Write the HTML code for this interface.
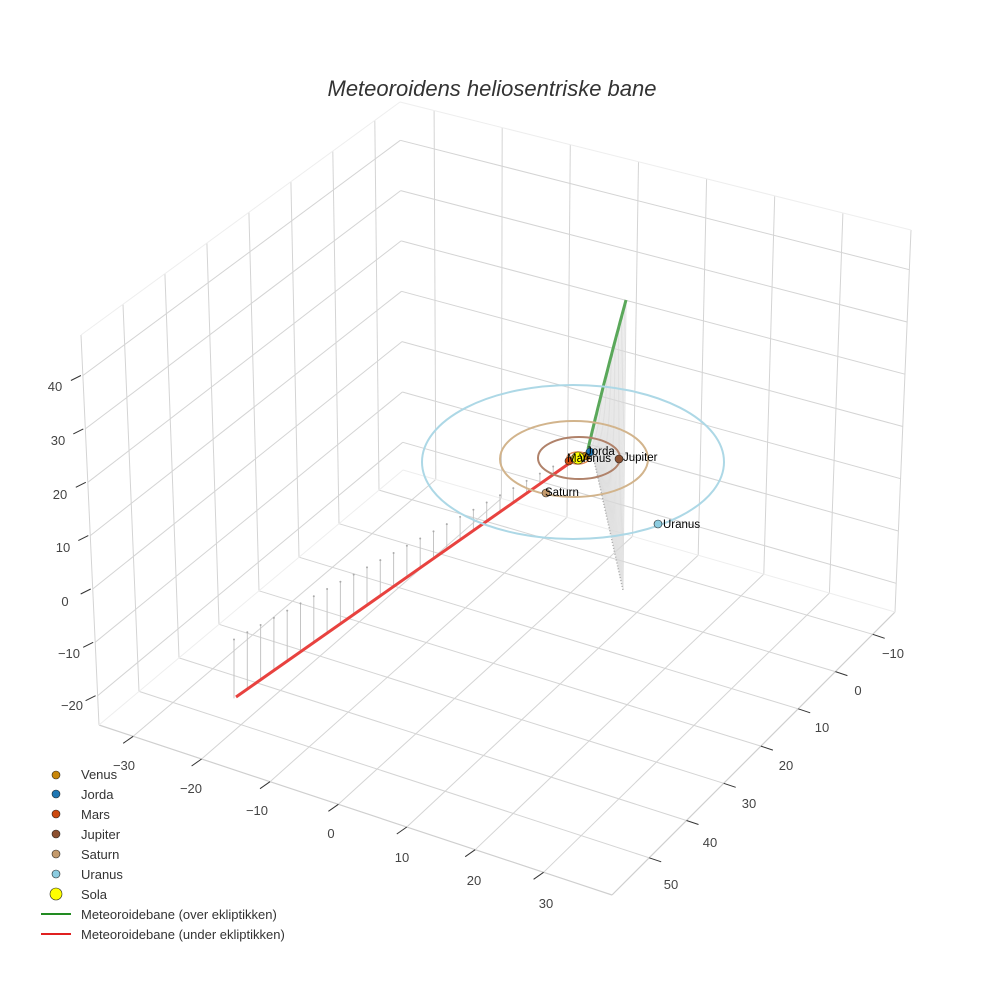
<!DOCTYPE html>
<html><head><meta charset="utf-8"><style>
html,body{margin:0;padding:0;background:#fff;}
svg{display:block;font-family:"Liberation Sans",sans-serif;}
</style></head><body>
<svg id="s" width="984" height="984" viewBox="0 0 984 984" xmlns="http://www.w3.org/2000/svg">
<rect width="984" height="984" fill="#fff"/>
<g id="grid"></g>
<text x="492" y="96" text-anchor="middle" font-size="22" font-style="italic" fill="#333">Meteoroidens heliosentriske bane</text>
<g font-size="13" fill="#444" text-anchor="middle">
<text x="55" y="391">40</text><text x="58" y="445">30</text><text x="60" y="499">20</text><text x="63" y="552">10</text><text x="65" y="606">0</text><text x="69" y="658">−10</text><text x="72" y="710">−20</text>
<text x="124" y="770">−30</text><text x="191" y="793">−20</text><text x="257" y="815">−10</text><text x="331" y="838">0</text><text x="402" y="862">10</text><text x="474" y="885">20</text><text x="546" y="908">30</text>
<text x="893" y="658">−10</text><text x="858" y="695">0</text><text x="822" y="732">10</text><text x="786" y="770">20</text><text x="749" y="808">30</text><text x="710" y="847">40</text><text x="671" y="889">50</text>
</g>
<g id="data"></g>
<ellipse cx="573" cy="462" rx="151" ry="77" fill="none" stroke="#add8e6" stroke-width="2"/>
<ellipse cx="574" cy="459" rx="74" ry="38" fill="none" stroke="#d2b48c" stroke-width="2"/>
<ellipse cx="579" cy="458" rx="41" ry="21" fill="none" stroke="#b0826a" stroke-width="2"/>
<ellipse cx="578" cy="458" rx="11" ry="6" fill="none" stroke="#e08a50" stroke-width="1.5"/>
<ellipse cx="578" cy="458" rx="7" ry="4" fill="none" stroke="#d9a060" stroke-width="1.5"/>
<g stroke="#222" stroke-width="0.6">
<circle cx="569" cy="461" r="4" fill="#cc4a10"/>
<circle cx="586" cy="456" r="4" fill="#c8860a"/>
<circle cx="590" cy="452" r="4" fill="#1f77b4"/>
<circle cx="578" cy="458" r="6" fill="#ffff00"/>
<circle cx="619" cy="459" r="4" fill="#8c5030"/>
<circle cx="546" cy="493" r="4" fill="#c49a6c"/>
<circle cx="658" cy="524" r="4" fill="#8ccce0"/>
</g>
<g font-size="11.5" fill="#000">
<text x="586" y="455">Jorda</text>
<text x="567" y="462">Mars</text>
<text x="579" y="462">Venus</text>
<text x="623" y="461">Jupiter</text>
<text x="545" y="496">Saturn</text>
<text x="663" y="528">Uranus</text>
</g>
<g stroke="#222" stroke-width="0.6">
<circle cx="56" cy="775" r="4" fill="#c8860a"/>
<circle cx="56" cy="794" r="4" fill="#1f77b4"/>
<circle cx="56" cy="814" r="4" fill="#cc4a10"/>
<circle cx="56" cy="834" r="4" fill="#8c5030"/>
<circle cx="56" cy="854" r="4" fill="#c49a6c"/>
<circle cx="56" cy="874" r="4" fill="#8ccce0"/>
<circle cx="56" cy="894" r="6" fill="#ffff00"/>
</g>
<line x1="41" y1="914" x2="71" y2="914" stroke="#228b22" stroke-width="2"/>
<line x1="41" y1="934" x2="71" y2="934" stroke="#e02020" stroke-width="2"/>
<g font-size="13" fill="#333">
<text x="81" y="779">Venus</text><text x="81" y="799">Jorda</text><text x="81" y="819">Mars</text><text x="81" y="839">Jupiter</text><text x="81" y="859">Saturn</text><text x="81" y="879">Uranus</text><text x="81" y="899">Sola</text><text x="81" y="919">Meteoroidebane (over ekliptikken)</text><text x="81" y="939">Meteoroidebane (under ekliptikken)</text>
</g>
</svg>
<script>
(function(){
var NS="http://www.w3.org/2000/svg";
function el(p,n,a){var e=document.createElementNS(NS,n);for(var k in a)e.setAttribute(k,a[k]);p.appendChild(e);return e;}
var X0=-35,X1=40,Y0=-16,Y1=60,Z0=-25.5,Z1=47.6;
var B={K:[403,470],R:[895,612],L:[99,725],F:[612,895]};
var T={K:[400,102],R:[911,230],L:[81,335],F:[625,475]};
function P(x,y,z){var u=(x-X0)/(X1-X0),v=(y-Y0)/(Y1-Y0),w=(z-Z0)/(Z1-Z0);
function bl(C,i){return C.K[i]*(1-u)*(1-v)+C.R[i]*u*(1-v)+C.L[i]*(1-u)*v+C.F[i]*u*v;}
return [bl(B,0)*(1-w)+bl(T,0)*w, bl(B,1)*(1-w)+bl(T,1)*w];}
var g=document.getElementById('grid');
function L(a,b,c,wd){el(g,'line',{x1:a[0].toFixed(1),y1:a[1].toFixed(1),x2:b[0].toFixed(1),y2:b[1].toFixed(1),stroke:c||'#d4d4d4','stroke-width':wd||1});}
var xs=[-30,-20,-10,0,10,20,30],ys=[-10,0,10,20,30,40,50],zs=[-20,-10,0,10,20,30,40];
xs.forEach(function(x){L(P(x,Y0,Z0),P(x,Y1,Z0));L(P(x,Y0,Z0),P(x,Y0,Z1));});
ys.forEach(function(y){L(P(X0,y,Z0),P(X1,y,Z0));L(P(X0,y,Z0),P(X0,y,Z1));});
zs.forEach(function(z){L(P(X0,Y1,z),P(X0,Y0,z));L(P(X0,Y0,z),P(X1,Y0,z));});
L(P(X0,Y1,Z0),P(X1,Y1,Z0),'#cfcfcf',1.2);L(P(X1,Y1,Z0),P(X1,Y0,Z0),'#cfcfcf',1.2);
L(P(X0,Y1,Z0),P(X0,Y1,Z1),'#d4d4d4');L(P(X1,Y0,Z0),P(X1,Y0,Z1),'#d4d4d4');
L(P(X0,Y1,Z1),P(X0,Y0,Z1),'#eeeeee');L(P(X0,Y0,Z1),P(X1,Y0,Z1),'#eeeeee');
L(P(X0,Y1,Z0),P(X0,Y0,Z0),'#eeeeee');L(P(X0,Y0,Z0),P(X1,Y0,Z0),'#eeeeee');
xs.forEach(function(x){var p=P(x,Y1,Z0);L([p[0],p[1]],[p[0]-10,p[1]+7],'#333',1);});
ys.forEach(function(y){var p=P(X1,y,Z0);L([p[0],p[1]],[p[0]+12,p[1]+4],'#333',1);});
zs.forEach(function(z){var p=P(X0,Y1,z);L([p[0]-2,p[1]],[p[0]-12,p[1]+5],'#333',1);});
var d=document.getElementById('data');
function G(t){var a=[588,449],c=[603,385],b=[626,300];return [(1-t)*(1-t)*a[0]+2*t*(1-t)*c[0]+t*t*b[0],(1-t)*(1-t)*a[1]+2*t*(1-t)*c[1]+t*t*b[1]];}
function D(t){return [594+29*t,460+130*t];}
for(var i=0;i<=30;i++){var t=i/30,a=G(t),b=D(t);el(d,'line',{x1:a[0],y1:a[1],x2:b[0],y2:b[1],stroke:'#d8d8d8','stroke-width':1,opacity:0.8});}
el(d,'line',{x1:594,y1:460,x2:623,y2:590,stroke:'#aaa','stroke-width':1.5,'stroke-dasharray':'1,2'});
var pts=[];for(var i=0;i<=30;i++){var q=G(i/30);pts.push(q[0].toFixed(1)+','+q[1].toFixed(1));}
el(d,'polyline',{points:pts.join(' '),fill:'none',stroke:'#5aa85a','stroke-width':3});
for(var i=0;i<26;i++){var x=234+i*13.3;var yr=697-(x-236)*0.703;var yt=640-(x-233)*0.542;if(yt>=yr-3)break;
el(d,'line',{x1:x,y1:yr,x2:x,y2:yt,stroke:'#c4c4c4','stroke-width':1});el(d,'circle',{cx:x,cy:yt,r:1,fill:'#aaa'});}
el(d,'line',{x1:236,y1:697,x2:574,y2:460,stroke:'#e8423f','stroke-width':3});
})();
</script>
</body></html>
